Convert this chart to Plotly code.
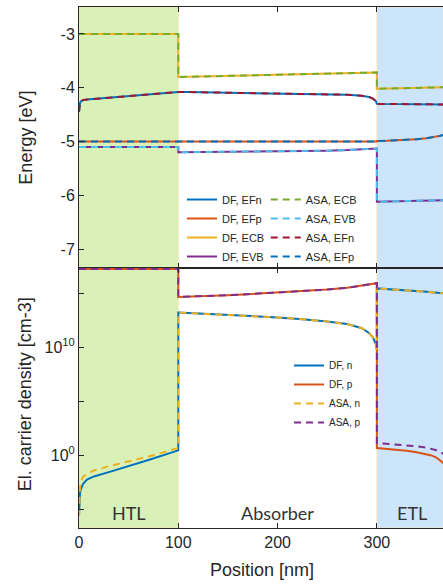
import plotly.graph_objects as go
from plotly.subplots import make_subplots

# ---------------- data ----------------
position_nm = [0, 0.5, 1, 2, 4, 8, 15, 30, 50, 70, 100,
               100, 110, 130, 150, 175, 200, 225, 250, 270, 285, 292, 296, 299, 300,
               300, 310, 320, 330, 340, 350, 355, 360, 364, 367]

# Energy levels [eV]
ecb = [-3.0] * 11 + \
      [-3.80, -3.796, -3.79, -3.785, -3.78, -3.77, -3.76, -3.75, -3.74, -3.73, -3.725, -3.72, -3.72, -3.716] + \
      [-4.02, -4.015, -4.01, -4.005, -4.0, -3.998, -3.995, -3.993, -3.99, -3.99]
efn = [-4.45, -4.33, -4.28, -4.25, -4.23, -4.22, -4.21, -4.19, -4.16, -4.13, -4.09] + \
      [-4.08, -4.08, -4.085, -4.09, -4.10, -4.105, -4.11, -4.12, -4.13, -4.15, -4.17, -4.20, -4.25, -4.30] + \
      [-4.30, -4.30, -4.30, -4.30, -4.305, -4.305, -4.305, -4.31, -4.31, -4.31]
efp = [-5.0] * 11 + [-5.0] * 14 + \
      [-4.99, -4.985, -4.978, -4.97, -4.957, -4.94, -4.928, -4.912, -4.893, -4.875]
evb = [-5.1] * 11 + \
      [-5.20, -5.199, -5.197, -5.195, -5.19, -5.185, -5.18, -5.17, -5.16, -5.15, -5.145, -5.14, -5.135, -5.13] + \
      [-6.12, -6.115, -6.11, -6.105, -6.10, -6.10, -6.095, -6.095, -6.09, -6.09]

# Carrier densities, log10 [cm-3]
log_n_df = [-5.6, -4.0, -3.5, -3.1, -2.65, -2.25, -1.95, -1.55, -1.0, -0.42, 0.47] + \
           [13.25, 13.2, 13.12, 13.05, 12.93, 12.8, 12.63, 12.42, 12.18, 11.8, 11.35, 10.95, 10.3, 9.8] + \
           [15.49, 15.44, 15.38, 15.32, 15.25, 15.18, 15.14, 15.10, 15.06, 15.03]
log_n_asa = [-5.6, -3.6, -3.0, -2.4, -2.0, -1.7, -1.4, -1.0, -0.55, -0.1, 0.69] + \
            [13.25, 13.2, 13.12, 13.05, 12.93, 12.8, 12.63, 12.42, 12.18, 11.8, 11.35, 10.95, 10.3, 9.8] + \
            [15.49, 15.44, 15.38, 15.32, 15.25, 15.18, 15.14, 15.10, 15.06, 15.03]
log_p_df = [17.3] * 11 + \
           [14.70, 14.72, 14.78, 14.86, 14.98, 15.10, 15.23, 15.38, 15.55, 15.74, 15.83, 15.89, 15.94, 15.97] + \
           [0.69, 0.62, 0.53, 0.43, 0.30, 0.13, 0.0, -0.2, -0.45, -0.72]
log_p_asa = [17.3] * 11 + \
            [14.70, 14.72, 14.78, 14.86, 14.98, 15.10, 15.23, 15.38, 15.55, 15.74, 15.83, 15.89, 15.94, 15.97] + \
            [1.15, 1.09, 1.02, 0.94, 0.85, 0.72, 0.62, 0.48, 0.32, 0.15]

x_ticks = [0, 100, 200, 300]
energy_ticks = [-7, -6, -5, -4, -3]
energy_ticktext = ["-7", "-6", "-5", "-4", "-3"]
density_ticks = [1e0, 1e10]
density_ticktext = ["10<sup>0</sup>", "10<sup>10</sup>"]
density_minor_ticks = [1e-5, 1e5, 1e15]
regions = [("HTL", 0, 100), ("Absorber", 100, 300), ("ETL", 300, 367)]
x_range = [0, 366.6]

# ---------------- styles ----------------
BLUE, ORANGE, YELLOW, PURPLE = "#0072BD", "#D95319", "#EDB120", "#7E2F8E"
GREEN, LBLUE, DRED = "#77AC30", "#4DBEEE", "#A2142F"
AX = "#262626"
FONT = "Liberation Sans, Arial, sans-serif"
DASH = "7px,5px"

fig = make_subplots(rows=2, cols=1, shared_xaxes=True, vertical_spacing=0)

# top panel: DF solid
for name, y, c in [("DF, EFn", efn, BLUE), ("DF, EFp", efp, ORANGE),
                   ("DF, ECB", ecb, YELLOW), ("DF, EVB", evb, PURPLE)]:
    fig.add_trace(go.Scatter(x=position_nm, y=y, name=name, mode="lines",
                             line=dict(color=c, width=2), legend="legend"), row=1, col=1)
# top panel: ASA dashed
for name, y, c in [("ASA, ECB", ecb, GREEN), ("ASA, EVB", evb, LBLUE),
                   ("ASA, EFn", efn, DRED), ("ASA, EFp", efp, BLUE)]:
    fig.add_trace(go.Scatter(x=position_nm, y=y, name=name, mode="lines",
                             line=dict(color=c, width=2, dash=DASH), legend="legend2"), row=1, col=1)

# bottom panel
for name, ly, c, d in [("DF, n", log_n_df, BLUE, "solid"), ("DF, p", log_p_df, ORANGE, "solid"),
                       ("ASA, n", log_n_asa, YELLOW, DASH), ("ASA, p", log_p_asa, PURPLE, DASH)]:
    fig.add_trace(go.Scatter(x=position_nm, y=[10 ** v for v in ly], name=name, mode="lines",
                             line=dict(color=c, width=2, dash=d), legend="legend3"), row=2, col=1)

# region shading
fills = {"HTL": "#d9f0b6", "ETL": "#cce5fb"}
for label, a, b in regions:
    if label in fills:
        fig.add_shape(type="rect", xref="x", yref="paper", x0=a, x1=b, y0=0, y1=1,
                      fillcolor=fills[label], line=dict(color="#fbe6c4", width=1), layer="below")
    fig.add_annotation(x=(a + b) / 2 if label != "ETL" else 335, y=0.029, xref="x", yref="paper",
                       text=label, showarrow=False, yanchor="middle",
                       font=dict(family="Lato, sans-serif", size=18, color="#333333"))

axis_common = dict(showline=True, linecolor=AX, linewidth=1, ticks="inside", ticklen=5,
                   tickcolor=AX, showgrid=False, zeroline=False,
                   tickfont=dict(family=FONT, size=16, color=AX))

fig.update_xaxes(range=x_range, tickvals=x_ticks, mirror="ticks", **axis_common)
fig.update_xaxes(showticklabels=False, row=1, col=1)
fig.update_yaxes(range=[-7.353, -2.498], tickvals=energy_ticks, ticktext=energy_ticktext,
                 domain=[0.499, 1.0], row=1, col=1, **axis_common)
fig.update_yaxes(type="log", range=[-6.73, 17.38], tickvals=density_ticks, ticktext=density_ticktext,
                 minor=dict(tickvals=density_minor_ticks, ticks="inside", ticklen=5, tickcolor=AX,
                            showgrid=False),
                 domain=[0.0, 0.499], row=2, col=1, **axis_common)

# axis titles
title_font = dict(family=FONT, size=18, color=AX)
fig.add_annotation(text="Energy [eV]", x=-0.148, y=0.7495, xref="paper", yref="paper",
                   textangle=-90, showarrow=False, xanchor="center", yanchor="middle", font=title_font)
fig.add_annotation(text="El. carrier density [cm-3]", x=-0.148, y=0.257, xref="paper", yref="paper",
                   textangle=-90, showarrow=False, xanchor="center", yanchor="middle", font=title_font)
fig.add_annotation(text="Position [nm]", x=0.503, y=-0.0806, xref="paper", yref="paper",
                   showarrow=False, xanchor="center", yanchor="middle", font=title_font)

leg = dict(bgcolor="rgba(0,0,0,0)", borderwidth=0, xanchor="left", yanchor="middle",
           tracegroupgap=0)
fig.update_layout(
    width=443, height=586,
    margin=dict(l=79, r=0, t=7, b=58),
    plot_bgcolor="white", paper_bgcolor="white",
    font=dict(family=FONT, color=AX),
    legend=dict(x=0.283, y=0.5758, font=dict(family=FONT, size=11, color=AX), **leg),
    legend2=dict(x=0.513, y=0.5758, font=dict(family=FONT, size=11, color=AX), **leg),
    legend3=dict(x=0.577, y=0.2572, font=dict(family=FONT, size=10, color=AX), **leg),
)

fig.write_html("out.html")
